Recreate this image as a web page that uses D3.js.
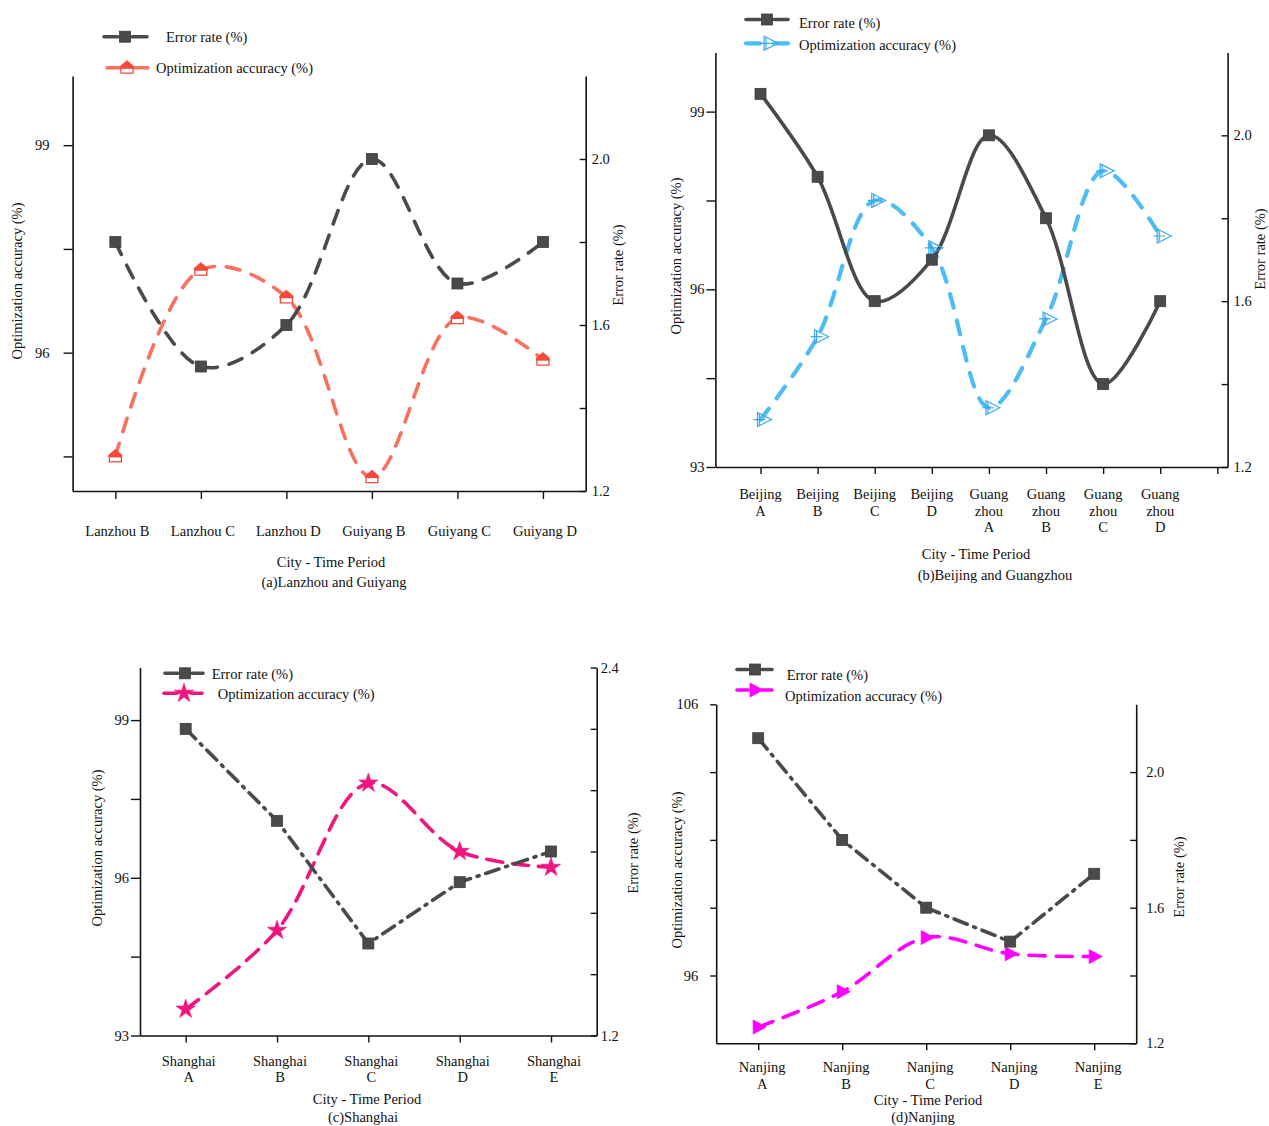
<!DOCTYPE html>
<html>
<head>
<meta charset="utf-8">
<script src="https://cdn.jsdelivr.net/npm/d3@7"></script>
<style>
body { margin: 0; background: #fff; }
svg { display: block; }
text { font-family: "Liberation Serif", "Times New Roman", serif; fill: #111; }
</style>
</head>
<body>
<svg id="chart" width="1269" height="1126"></svg>
<script>
// ---------------- DATA ----------------
// (a) Lanzhou and Guiyang
const catsA = ["Lanzhou B", "Lanzhou C", "Lanzhou D", "Guiyang B", "Guiyang C", "Guiyang D"];
const errA = [1.8, 1.5, 1.6, 2.0, 1.7, 1.8];
const accA = [94.5, 97.2, 96.8, 94.2, 96.5, 95.9];
const leftTicksA = [94.5, 96, 97.5, 99];
const leftLabelsA = [96, 99];
const rightTicksA = [1.2, 1.4, 1.6, 1.8, 2.0];
const rightLabelsA = [1.2, 1.6, 2.0];

// (b) Beijing and Guangzhou
const catsB = ["Beijing\nA", "Beijing\nB", "Beijing\nC", "Beijing\nD", "Guang\nzhou\nA", "Guang\nzhou\nB", "Guang\nzhou\nC", "Guang\nzhou\nD"];
const errB = [2.1, 1.9, 1.6, 1.7, 2.0, 1.8, 1.4, 1.6];
const accB = [93.8, 95.2, 97.5, 96.7, 94.0, 95.5, 98.0, 96.9];
const leftTicksB = [93, 94.5, 96, 97.5, 99];
const leftLabelsB = [93, 96, 99];
const rightTicksB = [1.2, 1.4, 1.6, 1.8, 2.0];
const rightLabelsB = [1.2, 1.6, 2.0];

// (c) Shanghai
const catsC = ["Shanghai\nA", "Shanghai\nB", "Shanghai\nC", "Shanghai\nD", "Shanghai\nE"];
const errC = [2.2, 1.9, 1.5, 1.7, 1.8];
const accC = [93.5, 95.0, 97.8, 96.5, 96.2];
const leftTicksC = [93, 94.5, 96, 97.5, 99];
const leftLabelsC = [93, 96, 99];
const rightTicksC = [1.2, 1.4, 1.6, 1.8, 2.0, 2.2, 2.4];
const rightLabelsC = [1.2, 2.4];

// (d) Nanjing
const catsD = ["Nanjing\nA", "Nanjing\nB", "Nanjing\nC", "Nanjing\nD", "Nanjing\nE"];
const errD = [2.1, 1.8, 1.6, 1.5, 1.7];
const accD = [94.1, 95.4, 97.4, 96.8, 96.7];
const leftTicksD = [96, 98.5, 101, 103.5, 106];
const leftLabelsD = [96, 106];
const rightTicksD = [1.2, 1.4, 1.6, 1.8, 2.0];
const rightLabelsD = [1.2, 1.6, 2.0];

const seriesNames = ["Error rate (%)", "Optimization accuracy (%)"];
const xTitle = "City - Time Period";

// ---------------- DRAWING ----------------
const svg = d3.select("#chart");
const GRAY = "#4a4a4a";

function drawMarker(g, type, cx, cy, color) {
  const m = g.append("g").attr("transform", `translate(${cx},${cy})`);
  if (type === "square") {
    m.append("rect").attr("x", -5.5).attr("y", -5.5).attr("width", 11).attr("height", 11)
      .attr("fill", GRAY).attr("stroke", "#3d3d3d").attr("stroke-width", 0.8);
  } else if (type === "pentagon") {
    m.append("path").attr("d", "M-6,0 L-6,5.5 L6,5.5 L6,0 Z")
      .attr("fill", "#fff").attr("stroke", color).attr("stroke-width", 1.3);
    m.append("path").attr("d", "M-6.5,0.5 L-6.5,-1.5 L0,-7 L6.5,-1.5 L6.5,0.5 Z")
      .attr("fill", color).attr("stroke", color).attr("stroke-width", 1);
  } else if (type === "triOpen") {
    m.append("path").attr("d", "M-3,-7 L11,0 L-3,7 Z")
      .attr("fill", "none").attr("stroke", color).attr("stroke-width", 1.2);
    m.append("path").attr("d", "M-7,0 L5,0 M-1,-6 L-1,6")
      .attr("fill", "none").attr("stroke", color).attr("stroke-width", 1.2);
  } else if (type === "star") {
    m.append("path").attr("d", d3.symbol(d3.symbolStar).size(115)())
      .attr("fill", color).attr("stroke", color).attr("stroke-width", 0.6);
  } else if (type === "triFill") {
    m.append("path").attr("d", "M-5,-7 L8,0 L-5,7 Z")
      .attr("fill", color).attr("stroke", color).attr("stroke-width", 0.8);
  }
}

function fmtLeft(labels) {
  return d => labels.includes(d) ? d3.format("d")(d) : "";
}
function fmtRight(labels) {
  return d => labels.includes(d) ? d3.format(".1f")(d) : "";
}

function drawPanel(cfg) {
  const g = svg.append("g");
  const x = d3.scaleLinear().domain(cfg.xDomain).range([cfg.L, cfg.R]);
  const yL = d3.scaleLinear().domain(cfg.yLDomain).range([cfg.B, cfg.T]);
  const yR = d3.scaleLinear().domain(cfg.yRDomain).range([cfg.B, cfg.T]);
  const xs = cfg.cats.map((c, i) => i + cfg.x0);

  const axL = g.append("g").attr("transform", `translate(${cfg.L},0)`)
    .call(d3.axisLeft(yL).tickValues(cfg.lTicks).tickFormat(fmtLeft(cfg.lLabels))
      .tickSize(cfg.lTickSize).tickSizeOuter(0).tickPadding(cfg.lPad));
  const axR = g.append("g").attr("transform", `translate(${cfg.R},0)`)
    .call(d3.axisRight(yR).tickValues(cfg.rTicks).tickFormat(fmtRight(cfg.rLabels))
      .tickSize(-6).tickSizeOuter(0).tickPadding(cfg.rPad));
  const axB = g.append("g").attr("transform", `translate(0,${cfg.B})`)
    .call(d3.axisBottom(x).tickValues(cfg.xTicks).tickFormat("").tickSize(cfg.xTickSize).tickSizeOuter(0));
  [axL, axR, axB].forEach(a => {
    a.selectAll("path.domain").attr("stroke", "#111").attr("stroke-width", 1.6);
    a.selectAll(".tick line").attr("stroke", "#111").attr("stroke-width", 1.4);
    a.selectAll(".tick text").attr("font-size", 14.5).attr("fill", "#111")
      .attr("font-family", '"Liberation Serif", "Times New Roman", serif');
  });

  cfg.cats.forEach((c, i) => {
    const t = g.append("text").attr("x", x(xs[i])).attr("y", cfg.labY)
      .attr("text-anchor", "middle").attr("font-size", 14.5);
    c.split("\n").forEach((ln, j) => {
      t.append("tspan").attr("x", x(xs[i]) + cfg.labDx).attr("y", cfg.labY + j * cfg.labLH).text(ln);
    });
  });

  g.append("text").attr("x", cfg.xt[0]).attr("y", cfg.xt[1]).attr("text-anchor", "middle")
    .attr("font-size", 14.5).text(xTitle);
  g.append("text").attr("x", cfg.sub[0]).attr("y", cfg.sub[1]).attr("text-anchor", "middle")
    .attr("font-size", 14.5).text(cfg.subText);
  g.append("text").attr("transform", `translate(${cfg.ylt[0]},${cfg.ylt[1]}) rotate(-90)`)
    .attr("text-anchor", "middle").attr("font-size", 14.5).text(seriesNames[1]);
  g.append("text").attr("transform", `translate(${cfg.yrt[0]},${cfg.yrt[1]}) rotate(-90)`)
    .attr("text-anchor", "middle").attr("font-size", 14.5).text(seriesNames[0]);

  const lineAcc = d3.line().x((d, i) => x(xs[i])).y(d => yL(d)).curve(cfg.accCurve);
  const lineErr = d3.line().x((d, i) => x(xs[i])).y(d => yR(d)).curve(cfg.errCurve);
  g.append("path").attr("d", lineAcc(cfg.acc)).attr("fill", "none")
    .attr("stroke", cfg.accColor).attr("stroke-width", cfg.accW)
    .attr("stroke-dasharray", cfg.accDash).attr("stroke-linecap", cfg.cap);
  g.append("path").attr("d", lineErr(cfg.err)).attr("fill", "none")
    .attr("stroke", GRAY).attr("stroke-width", cfg.errW)
    .attr("stroke-dasharray", cfg.errDash).attr("stroke-linecap", cfg.cap);

  cfg.acc.forEach((v, i) => drawMarker(g, cfg.accMarker, x(xs[i]), yL(v), cfg.accMarkColor));
  cfg.err.forEach((v, i) => drawMarker(g, "square", x(xs[i]), yR(v), GRAY));

  const lg = cfg.legend;
  const specs = [
    { color: GRAY, w: cfg.errW, marker: "square", mcolor: GRAY },
    { color: cfg.accColor, w: cfg.accW, marker: cfg.accMarker, mcolor: cfg.accMarkColor }
  ];
  lg.forEach((it, k) => {
    const s = specs[k];
    g.append("line").attr("x1", it.x1).attr("x2", it.mx - 7).attr("y1", it.y).attr("y2", it.y)
      .attr("stroke", s.color).attr("stroke-width", s.w).attr("stroke-linecap", "round");
    g.append("line").attr("x1", it.mx + 7).attr("x2", it.x2).attr("y1", it.y).attr("y2", it.y)
      .attr("stroke", s.color).attr("stroke-width", s.w).attr("stroke-linecap", "round");
    drawMarker(g, s.marker, it.mx, it.y, s.mcolor);
    g.append("text").attr("x", it.tx).attr("y", it.ty).attr("font-size", 14.5).text(seriesNames[k]);
  });
}

// (a)
drawPanel({
  cats: catsA, err: errA, acc: accA, x0: 0,
  L: 72.6, R: 585.7, T: 76, B: 491,
  xDomain: [-0.5, 5.5], xTicks: d3.range(catsA.length),
  yLDomain: [94, 100], yRDomain: [1.2, 2.2],
  lTicks: leftTicksA, lLabels: leftLabelsA, rTicks: rightTicksA, rLabels: rightLabelsA,
  lTickSize: 9, lPad: 14, rPad: 6, xTickSize: 8,
  labY: 536, labLH: 16.5, labDx: 2,
  xt: [331, 567], sub: [334, 587], subText: "(a)Lanzhou and Guiyang",
  ylt: [22, 281], yrt: [623, 265],
  accColor: "#f9705e", accMarkColor: "#f44a3a", accMarker: "pentagon",
  accW: 3.6, errW: 3.6, accDash: "14,12", errDash: "14,12", cap: "round",
  accCurve: d3.curveCatmullRom.alpha(0.5), errCurve: d3.curveCatmullRom.alpha(0.5),
  legend: [
    { y: 36.7, x1: 104, x2: 147, mx: 125, tx: 166, ty: 42 },
    { y: 67.7, x1: 107, x2: 148, mx: 127, tx: 156, ty: 73 }
  ]
});

// (b)
drawPanel({
  cats: catsB, err: errB, acc: accB, x0: 1,
  L: 715.4, R: 1227.6, T: 52.4, B: 467,
  xDomain: [0.21, 9.18], xTicks: d3.range(1, 10),
  yLDomain: [93, 100], yRDomain: [1.2, 2.2],
  lTicks: leftTicksB, lLabels: leftLabelsB, rTicks: rightTicksB, rLabels: rightLabelsB,
  lTickSize: 9, lPad: 2, rPad: 6, xTickSize: 7,
  labY: 499, labLH: 16.5, labDx: 0,
  xt: [976, 559], sub: [995, 580], subText: "(b)Beijing and Guangzhou",
  ylt: [681, 256], yrt: [1265, 249],
  accColor: "#4dbdf5", accMarkColor: "#3aa9ef", accMarker: "triOpen",
  accW: 4.2, errW: 3.6, accDash: "14,13", errDash: null, cap: "round",
  accCurve: d3.curveCatmullRom.alpha(0.5), errCurve: d3.curveCatmullRom.alpha(0.5),
  legend: [
    { y: 19.5, x1: 746, x2: 788, mx: 767, tx: 799, ty: 28 },
    { y: 43.3, x1: 746, x2: 788, mx: 767, tx: 799, ty: 50 }
  ]
});

// (c)
drawPanel({
  cats: catsC, err: errC, acc: accC, x0: 0,
  L: 140, R: 596.7, T: 667.5, B: 1035.5,
  xDomain: [-0.5, 4.5], xTicks: d3.range(catsC.length),
  yLDomain: [93, 100], yRDomain: [1.2, 2.4],
  lTicks: leftTicksC, lLabels: leftLabelsC, rTicks: rightTicksC, rLabels: rightLabelsC,
  lTickSize: 9, lPad: 2, rPad: 4, xTickSize: 7,
  labY: 1065.5, labLH: 16, labDx: 3,
  xt: [367, 1104], sub: [363, 1122], subText: "(c)Shanghai",
  ylt: [102, 848], yrt: [638, 853],
  accColor: "#f0157f", accMarkColor: "#f0157f", accMarker: "star",
  accW: 3.6, errW: 3.6, accDash: "16,10", errDash: "14,7,2,7", cap: "round",
  accCurve: d3.curveCatmullRom.alpha(0.5), errCurve: d3.curveLinear,
  legend: [
    { y: 673.3, x1: 165, x2: 203, mx: 185, tx: 211.7, ty: 679 },
    { y: 693.3, x1: 164, x2: 202, mx: 184, tx: 217.7, ty: 699 }
  ]
});

// (d)
drawPanel({
  cats: catsD, err: errD, acc: accD, x0: 0,
  L: 716.2, R: 1136.2, T: 704.3, B: 1043.3,
  xDomain: [-0.5, 4.5], xTicks: d3.range(catsD.length),
  yLDomain: [93.5, 106], yRDomain: [1.2, 2.2],
  lTicks: leftTicksD, lLabels: leftLabelsD, rTicks: rightTicksD, rLabels: rightLabelsD,
  lTickSize: 6, lPad: 12, rPad: 10, xTickSize: 7,
  labY: 1072, labLH: 16.5, labDx: 4,
  xt: [928, 1105], sub: [923, 1122], subText: "(d)Nanjing",
  ylt: [682, 870], yrt: [1184, 877],
  accColor: "#ff00ff", accMarkColor: "#ff00ff", accMarker: "triFill",
  accW: 3.6, errW: 3.6, accDash: "16,11", errDash: "14,7,2,7", cap: "round",
  accCurve: d3.curveCatmullRom.alpha(0.5), errCurve: d3.curveLinear,
  legend: [
    { y: 669.5, x1: 737, x2: 772, mx: 755, tx: 786.7, ty: 680 },
    { y: 690, x1: 737, x2: 772, mx: 755, tx: 785, ty: 700.5 }
  ]
});
</script>
</body>
</html>
